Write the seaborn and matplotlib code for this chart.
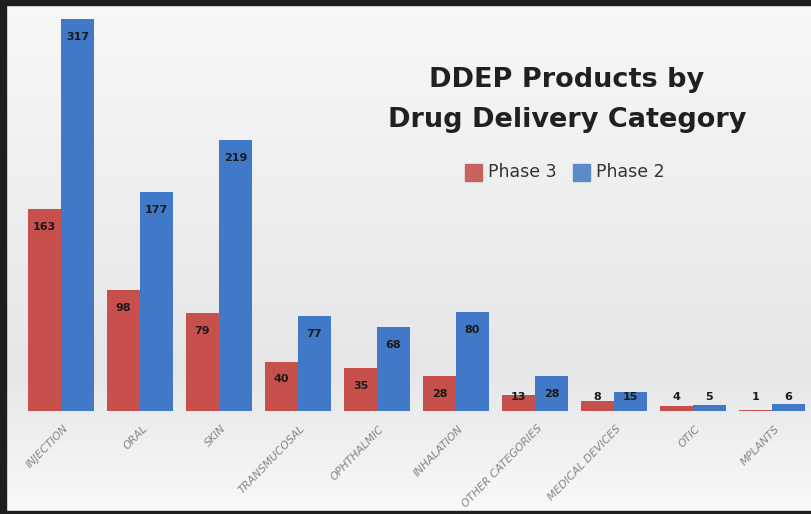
import numpy as np
import pandas as pd
import matplotlib
matplotlib.use("Agg")
import matplotlib.pyplot as plt
import seaborn as sns
from matplotlib.patches import Rectangle
import matplotlib.transforms as mtrans

categories = ["INJECTION", "ORAL", "SKIN", "TRANSMUCOSAL", "OPHTHALMIC",
              "INHALATION", "OTHER CATEGORIES", "MEDICAL DEVICES", "OTIC", "MPLANTS"]
phase3 = [163, 98, 79, 40, 35, 28, 13, 8, 4, 1]
phase2 = [317, 177, 219, 77, 68, 80, 28, 15, 5, 6]
series_names = ["Phase 3", "Phase 2"]

red = "#C8504C"
blue = "#3F79C8"

df = pd.DataFrame({
    "category": categories * 2,
    "value": phase3 + phase2,
    "phase": [series_names[0]] * len(categories) + [series_names[1]] * len(categories),
})

sns.set_theme(style="white")
plt.rcParams["font.family"] = ["DejaVu Sans"]

W, H = 811, 514
fig = plt.figure(figsize=(W / 100, H / 100), dpi=100)

# background gradient
bg = fig.add_axes([0, 0, 1, 1], zorder=-2)
ys = np.linspace(0, 1, 300)
top = np.array([0.968, 0.975, 0.975])
mid = np.array([0.895, 0.902, 0.906])
bot = np.array([0.975, 0.978, 0.980])
cols = []
for t in ys:
    if t < 0.72:
        c = top + (mid - top) * (t / 0.72)
    else:
        c = mid + (bot - mid) * ((t - 0.72) / 0.28)
    cols.append(c)
grad = np.array(cols)[:, None, :].repeat(2, axis=1)
bg.imshow(grad, aspect="auto", extent=[0, 1, 0, 1], origin="upper")
bg.set_xlim(0, 1)
bg.set_ylim(0, 1)
bg.axis("off")

ax = fig.add_axes([21.5 / W, (H - 411) / H, 790 / W, 392 / H])
ax.set_facecolor("none")
sns.barplot(data=df, x="category", y="value", hue="phase", order=categories,
            hue_order=series_names, palette=[red, blue], saturation=1,
            width=0.835, ax=ax, legend=False, edgecolor="none")
ax.set_xlim(-0.5, len(categories) - 0.5)
ax.set_ylim(0, 317)
for s in ax.spines.values():
    s.set_visible(False)
ax.set_yticks([])
ax.set_xlabel("")
ax.set_ylabel("")
ax.tick_params(axis="x", length=0, pad=9)
ax.set_xticks(range(len(categories)))
ax.set_xticklabels(categories, rotation=46, ha="right", va="top",
                   rotation_mode="anchor", fontsize=7.8, color="#858585",
                   style="italic")
offset = mtrans.ScaledTranslation(2 / 100, 0, fig.dpi_scale_trans)
for lbl in ax.get_xticklabels():
    lbl.set_transform(lbl.get_transform() + offset)

for cont in ax.containers:
    for bar in cont:
        v = bar.get_height()
        y = max(v - 14.5, 11.3)
        ax.text(bar.get_x() + bar.get_width() / 2, y, f"{int(round(v))}",
                ha="center", va="center", fontsize=8, fontweight="bold",
                color="#1a1a1a")

# title
fig.text(567 / W, 1 - 80 / H, "DDEP Products by", ha="center", va="center",
         fontsize=19.5, fontweight="heavy", color="#231f20")
fig.text(567 / W, 1 - 120 / H, "Drug Delivery Category", ha="center", va="center",
         fontsize=19.5, fontweight="heavy", color="#231f20")

# legend
leg_y = 1 - 172 / H
fig.patches.append(Rectangle((465 / W, leg_y - 8.5 / H), 17 / W, 17 / H,
                             transform=fig.transFigure, color="#C8625F"))
fig.text(488 / W, leg_y, series_names[0], ha="left", va="center",
         fontsize=12.5, color="#333333")
fig.patches.append(Rectangle((573 / W, leg_y - 8.5 / H), 17 / W, 17 / H,
                             transform=fig.transFigure, color="#5B8BC8"))
fig.text(596 / W, leg_y, series_names[1], ha="left", va="center",
         fontsize=12.5, color="#333333")

# dark frame
fig.patches.append(Rectangle((0, 1 - 5 / H), 1, 5 / H, transform=fig.transFigure,
                             color="#1e1e1e", zorder=10))
fig.patches.append(Rectangle((0, 0), 5.5 / W, 1, transform=fig.transFigure,
                             color="#1e1e1e", zorder=10))
fig.patches.append(Rectangle((0, 0), 1, 3 / H, transform=fig.transFigure,
                             color="#1e1e1e", zorder=10))

fig.savefig("out.png", dpi=100)
